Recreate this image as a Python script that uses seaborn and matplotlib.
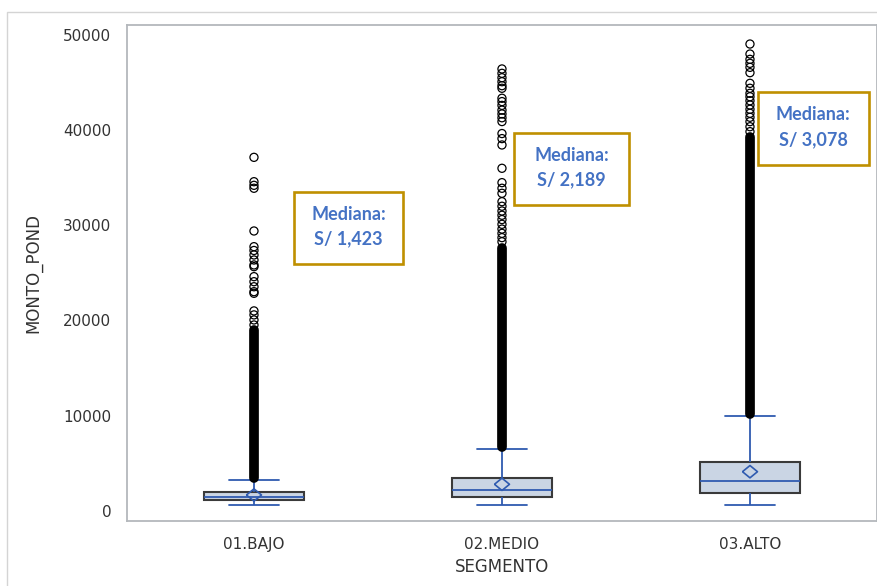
import numpy as np
import pandas as pd
import matplotlib
matplotlib.use("Agg")
import matplotlib.pyplot as plt
import seaborn as sns
from matplotlib.patches import Rectangle

# ---- data -------------------------------------------------------------
segments = ["01.BAJO", "02.MEDIO", "03.ALTO"]
whisker_low = [600, 630, 630]
q1 = [1156, 1408, 1892]
medians = [1423, 2189, 3078]
q3 = [1934, 3469, 5150]
whisker_high = [3227, 6517, 9985]
means = [1650, 2775, 4100]

# stretches where outliers overlap into a continuous column (start, end)
dense_start = [3400, 6730, 10130]
dense_end = [18990, 27600, 39310]

# individually visible outliers above the dense stretch
outliers_bajo = [37140, 34580, 34200, 33890, 29400, 27750, 27350, 26880,
                 26350, 25830, 25650, 24600, 24070, 23540, 23020, 22850,
                 21000, 20580, 20050, 19520]
outliers_medio = [46430, 45970, 45510, 45090, 44670, 44400, 43350, 43000,
                  42600, 42100, 41700, 41300, 40900, 39640, 39110, 38440,
                  35990, 34480, 33890, 33360, 32480, 32000, 31500, 31050,
                  30600, 30100, 29600, 29150, 28700, 28270]
outliers_alto = [49050, 48000, 47440, 47020, 46600, 46040, 44920, 44400,
                 43870, 43510, 43090, 42640, 42190, 41770, 41350, 40890,
                 40360, 39840]

y_ticks = [0, 10000, 20000, 30000, 40000, 50000]

# ---- styling ----------------------------------------------------------
BOX_FILL = "#cad5e4"
BOX_EDGE = "#3a3a3a"
BLUE = "#2f5bb0"
NOTE_BLUE = "#4472c4"
NOTE_GOLD = "#bf9000"
TEXT = "#333333"

sns.set_style("white")
plt.rcParams["font.family"] = ["DejaVu Sans"]

fig = plt.figure(figsize=(8.78, 5.86), dpi=100)
ax = fig.add_axes([127 / 878, 1 - 521 / 586, (876.7 - 127) / 878, (521 - 25) / 586])

positions = np.arange(len(segments))

# five-number summaries -> seaborn boxes (whiskers span min..max of each summary)
rows = []
for pos, stats in zip(positions, zip(whisker_low, q1, medians, q3, whisker_high)):
    for v in stats:
        rows.append({"pos": pos, "monto": v})
box_df = pd.DataFrame(rows)

sns.boxplot(
    data=box_df, x="pos", y="monto", native_scale=True, orient="x",
    width=0.405, whis=(0, 100), showfliers=False, saturation=1,
    color=BOX_FILL, linecolor=BLUE, linewidth=1.3,
    boxprops=dict(facecolor=BOX_FILL, edgecolor=BOX_EDGE, linewidth=1.5),
    whiskerprops=dict(color=BLUE, linewidth=1.3),
    capprops=dict(color=BLUE, linewidth=1.3),
    medianprops=dict(color=BLUE, linewidth=1.3),
    ax=ax,
)

# continuous outlier stretches
ax.vlines(positions, dense_start, dense_end, colors="black",
          linewidth=7.0, capstyle="round", zorder=4)

# individual outliers
for pos, vals in zip(positions, [outliers_bajo, outliers_medio, outliers_alto]):
    sns.scatterplot(x=np.full(len(vals), pos, dtype=float), y=vals,
                    marker="o", s=34, color="black", linewidth=0.9,
                    legend=False, zorder=5, ax=ax)
    coll = ax.collections[-1]
    coll.set_facecolor("none")
    coll.set_edgecolor("black")
    coll.set_linewidth(0.9)

# means
diamond = [(-1, 0), (0, 0.82), (1, 0), (0, -0.82), (-1, 0)]
sns.scatterplot(x=positions.astype(float), y=means, marker=diamond, s=117,
                color=BLUE, legend=False, zorder=6, ax=ax)
coll = ax.collections[-1]
coll.set_facecolor("none")
coll.set_edgecolor(BLUE)
coll.set_linewidth(1.2)

# ---- axes -------------------------------------------------------------
ax.set_xlim(-0.512, 2.511)
ax.set_ylim(-1083, 51050)
ax.set_xticks(positions, segments)
ax.set_yticks(y_ticks, [str(t) for t in y_ticks])
ax.tick_params(axis="both", length=5.8, width=1, color="#a6a6a6",
               labelcolor=TEXT, labelsize=11, pad=5.5)
for sp in ax.spines.values():
    sp.set_color("#b4b8bc")
    sp.set_linewidth(1.3)

ax.set_xlabel("SEGMENTO", fontsize=12, color=TEXT)
ax.set_ylabel("MONTO_POND", fontsize=12, color=TEXT)
ax.xaxis.label.set_va("center")
ax.yaxis.label.set_va("center")
ax.xaxis.set_label_coords(0.5, (521 - 567) / 496)
ax.yaxis.set_label_coords((33 - 127) / 749.7, 0.5)

# ---- median call-outs ---------------------------------------------------
note_boxes = [  # (x0, x1, y_bottom, y_top) in data units
    (0.161, 0.602, 25910, 33480),
    (1.0496, 1.512, 32100, 39670),
    (2.031, 2.480, 36300, 44010),
]
for (x0, x1, yb, yt), med in zip(note_boxes, medians):
    ax.add_patch(Rectangle((x0, yb), x1 - x0, yt - yb, fill=False,
                           edgecolor=NOTE_GOLD, linewidth=1.9, zorder=7,
                           clip_on=False))
    h = yt - yb
    xc = (x0 + x1) / 2
    ax.text(xc, yt - 0.305 * h, "Mediana:", ha="center", va="center",
            color=NOTE_BLUE, fontsize=13, fontweight="bold",
            family=["Lato", "DejaVu Sans"], zorder=8)
    ax.text(xc, yt - 0.648 * h, f"S/ {med:,}", ha="center", va="center",
            color=NOTE_BLUE, fontsize=13, fontweight="bold",
            family=["Lato", "DejaVu Sans"], zorder=8)

# light outer frame of the graph area
fig.add_artist(Rectangle((7 / 878, -0.1), 1.2, (1 - 12 / 586) + 0.1,
                         transform=fig.transFigure, fill=False,
                         edgecolor="#d4d4d4", linewidth=1.0))

fig.savefig("out.png", dpi=100)
